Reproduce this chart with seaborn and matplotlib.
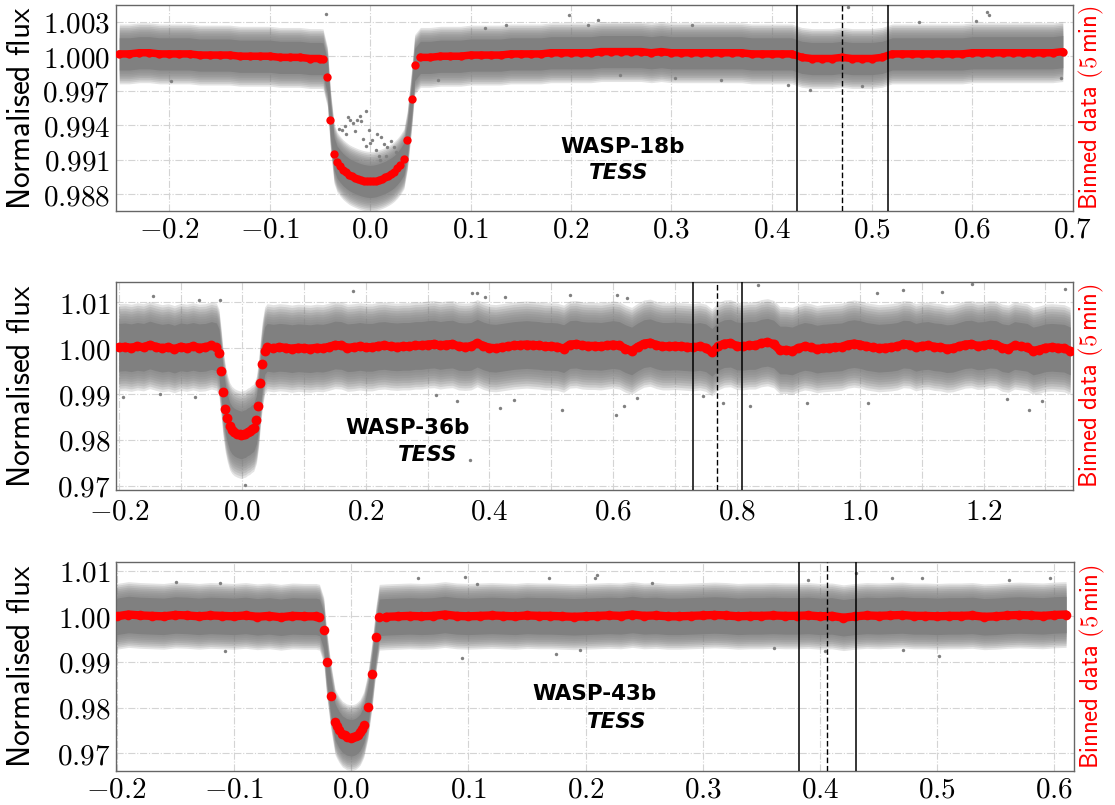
import numpy as np
import matplotlib
matplotlib.use("Agg")
import matplotlib.pyplot as plt
import seaborn as sns
from matplotlib.ticker import MultipleLocator, FuncFormatter, FixedLocator

sns.set_style("white")
plt.rcParams["font.family"] = ["DejaVu Sans"]
plt.rcParams["mathtext.fontset"] = "cm"
plt.rcParams["text.color"] = "black"

# ---------------- WASP-18b (TESS) ----------------
p1_pre_phase = np.round(np.arange(-0.25, -0.049, 0.01), 3)
p1_pre_flux = [1.0002, 1.0002, 1.0003, 1.0003, 1.0002, 1.0002, 1.0002, 1.0002, 1.0001, 1.0001,
               1.0001, 1.0001, 1.0000, 1.0000, 1.0000, 1.0000, 0.9999, 0.9999, 0.9999, 0.9998, 0.9998]
p1_tr_phase = [-0.047, -0.0426, -0.0396, -0.036, -0.033, -0.030, -0.027, -0.024, -0.021, -0.018,
               -0.015, -0.012, -0.009, -0.006, -0.003, 0.0, 0.003, 0.006, 0.009, 0.012,
               0.015, 0.018, 0.021, 0.024, 0.027, 0.030, 0.0336, 0.037, 0.0413, 0.0443]
p1_tr_flux = [0.99977, 0.9982, 0.9945, 0.99154, 0.9908, 0.99045, 0.99015, 0.98992, 0.98972, 0.98958,
              0.98946, 0.98935, 0.98926, 0.98919, 0.98914, 0.98912, 0.98914, 0.98919, 0.98928, 0.98937,
              0.98948, 0.98962, 0.98978, 0.98998, 0.99025, 0.99058, 0.99108, 0.9927, 0.9963, 0.99928]
p1_post_phase = np.round(np.arange(0.05, 0.695, 0.01), 3)
p1_post_flux = [0.9999, 0.9999, 1.0000, 1.0000, 1.0000, 1.0001, 1.0001, 1.0001, 1.0001, 1.0002,
                1.0002, 1.0002, 1.0002, 1.0003, 1.0003, 1.0003, 1.0003, 1.0003, 1.0004, 1.0004,
                1.0004, 1.0004, 1.0004, 1.0003, 1.0004, 1.0003, 1.0003, 1.0003, 1.0003, 1.0003,
                1.0003, 1.0003, 1.0003, 1.0002, 1.0002, 1.0002, 1.0002, 1.0002, 0.9999, 0.9998,
                0.9998, 0.9998, 0.9999, 0.9998, 0.9998, 0.9998, 0.9999, 1.0002, 1.0002, 1.0002,
                1.0002, 1.0002, 1.0002, 1.0002, 1.0002, 1.0003, 1.0003, 1.0003, 1.0003, 1.0003,
                1.0003, 1.0003, 1.0003, 1.0003, 1.0004]
p1_out_phase = [-0.0045, -0.0104, -0.0131, -0.0197, -0.0221, -0.0171, -0.0310, -0.0277, -0.0237, -0.0154,
                -0.0071, -0.0012, 0.0022, 0.0068, 0.0104, 0.0134, 0.0167, 0.0211, 0.0234, 0.0260,
                0.0055, 0.0085, 0.0101, 0.0154, 0.0002, -0.0038, -0.0088, -0.0254,
                -0.0443, -0.198, 0.6147, 0.6164, 0.6038, 0.5468, 0.4764, 0.438, 0.4167, 0.4904,
                0.6878, 0.198, 0.2265, 0.217, 0.114, 0.135, 0.249, 0.35, 0.3035, 0.068, 0.321]
p1_out_flux = [0.99522, 0.99484, 0.99450, 0.99450, 0.99473, 0.99421, 0.99369, 0.99357, 0.99320, 0.99348,
               0.99282, 0.99357, 0.99276, 0.99320, 0.99299, 0.99241, 0.99212, 0.99262, 0.99212, 0.99166,
               0.99189, 0.99137, 0.99097, 0.99131, 0.99247, 0.99218, 0.99435, 0.99392,
               1.00368, 0.99783, 1.00382, 1.00362, 1.00304, 1.00295, 1.00429, 0.99705, 0.99754, 0.99745,
               0.99812, 1.00354, 1.00319, 1.00275, 1.00246, 1.00267, 0.99841, 0.99792, 0.99812, 0.99792, 1.00275]
p1_noise = [0.0014, 0.0026]   # half-width of the dense core, of the sparse outer scatter
p1_solid = [0.4253, 0.5159]
p1_dashed = [0.4701]
p1_xticks = [-0.2, -0.1, 0.0, 0.1, 0.2, 0.3, 0.4, 0.5, 0.6, 0.7]
p1_yticks = [0.988, 0.991, 0.994, 0.997, 1.000, 1.003]

# ---------------- WASP-36b (TESS) ----------------
p2_pre_phase = np.round(np.arange(-0.20, -0.049, 0.01), 3)
p2_pre_flux = [1.0002, 1.0003, 1.0001, 1.0004, 1.0002, 1.0007, 1.0003, 1.0000, 1.0002, 0.9998,
               1.0003, 1.0001, 1.0004, 1.0001, 1.0002, 1.0006]
p2_tr_phase = [-0.042, -0.0379, -0.0347, -0.0314, -0.0275, -0.0243, -0.0206, -0.017, -0.013, -0.0087,
               -0.0045, -0.0016, 0.002, 0.0049, 0.0085, 0.0118, 0.015, 0.0183, 0.0227, 0.0259,
               0.0292, 0.0324, 0.0361, 0.040]
p2_tr_flux = [1.0003, 0.9990, 0.9951, 0.9904, 0.9867, 0.9847, 0.9830, 0.9822, 0.9817, 0.9814,
              0.9812, 0.9811, 0.9813, 0.9814, 0.9818, 0.9820, 0.9824, 0.9827, 0.9844, 0.9875,
              0.9925, 0.9966, 0.9995, 1.0002]
p2_post_phase = np.round(np.arange(0.05, 1.345, 0.01), 3)
p2_post_flux = [1.0000, 1.0002, 1.0001, 0.9999, 1.0001, 1.0000, 0.9999, 1.0001, 1.0000, 1.0003,
                1.0007, 1.0006, 1.0001, 1.0002, 1.0004, 1.0002, 1.0002, 1.0005, 1.0006, 1.0004,
                1.0003, 1.0004, 1.0004, 1.0006, 1.0006, 1.0008, 1.0009, 1.0006, 1.0008, 1.0009,
                1.0004, 1.0003, 1.0004, 1.0011, 1.0005, 1.0001, 1.0000, 1.0002, 1.0004, 1.0006,
                1.0007, 1.0008, 1.0007, 1.0006, 1.0004, 1.0004, 1.0003, 0.9999, 1.0008, 1.0009,
                1.0006, 1.0005, 1.0005, 1.0004, 1.0006, 1.0008, 1.0006, 0.9999, 0.9994, 1.0003,
                1.0010, 1.0012, 1.0007, 1.0004, 1.0004, 1.0005, 1.0004, 1.0003, 1.0002, 1.0004,
                1.0001, 0.9991, 1.0004, 1.0010, 1.0011, 1.0005, 1.0004, 1.0006, 1.0006, 1.0011,
                1.0013, 1.0009, 0.9996, 0.9996, 0.9994, 1.0000, 1.0004, 1.0002, 0.9998, 1.0000,
                1.0001, 1.0002, 1.0003, 1.0008, 1.0010, 1.0008, 1.0004, 1.0002, 1.0000, 1.0001,
                1.0002, 1.0004, 1.0009, 1.0008, 1.0002, 1.0005, 1.0006, 1.0003, 1.0002, 0.9999,
                1.0000, 1.0004, 1.0008, 1.0009, 1.0005, 1.0006, 1.0009, 1.0008, 1.0001, 0.9999,
                1.0006, 1.0004, 1.0002, 0.9994, 0.9997, 1.0001, 1.0002, 1.0001, 1.0000, 0.9994]
p2_out_phase = [0.379, 0.392, 0.425, 0.530, 0.371, 0.606, 0.622, 0.417, 0.517, 0.617,
                0.604, 0.439, 0.314, 0.347, 0.638, 0.746, 0.778, 0.834, 1.181, 1.332,
                1.027, 1.070, 1.132, 0.822, 0.914, 1.013, 1.274, 1.294, 1.237, -0.145,
                -0.070, -0.037, -0.194, -0.077, 0.179, 0.004, -0.134, 0.368]
p2_out_flux = [1.0120, 1.0111, 1.0112, 1.0116, 1.0120, 1.0116, 1.0109, 0.9870, 0.9866, 0.9873,
               0.9855, 0.9888, 0.9899, 0.9884, 0.9891, 0.9895, 0.9880, 1.0138, 1.0140, 1.0129,
               1.0121, 1.0126, 1.0122, 0.9873, 0.9880, 0.9880, 0.9866, 0.9884, 0.9890, 1.0114,
               1.0105, 1.0105, 0.9894, 0.9893, 1.0125, 0.9701, 0.9900, 0.9757]
p2_noise = [0.0052, 0.0095]
p2_solid = [0.730, 0.808]
p2_dashed = [0.768]
p2_xticks = [-0.2, 0.0, 0.2, 0.4, 0.6, 0.8, 1.0, 1.2]
p2_yticks = [0.97, 0.98, 0.99, 1.00, 1.01]

# ---------------- WASP-43b (TESS) ----------------
p3_pre_phase = np.round(np.arange(-0.20, -0.029, 0.01), 3)
p3_pre_flux = [1.0000, 1.0004, 1.0002, 1.0001, 1.0000, 1.0003, 1.0002, 1.0000, 1.0002, 1.0001,
               1.0000, 1.0002, 0.9999, 1.0001, 0.9998, 1.0001, 1.0000, 1.0000]
p3_tr_phase = [-0.027, -0.0234, -0.0209, -0.0174, -0.0137, -0.012, -0.0103, -0.0074, -0.0055, -0.0038,
               0.0, 0.002, 0.0039, 0.0058, 0.0077, 0.0092, 0.0108, 0.0142, 0.0179, 0.0214, 0.024]
p3_tr_flux = [0.9998, 0.9970, 0.9899, 0.9826, 0.9769, 0.9760, 0.9752, 0.9742, 0.9739, 0.9736,
              0.9734, 0.9735, 0.9737, 0.9741, 0.9746, 0.9754, 0.9763, 0.9802, 0.9873, 0.9954, 0.9998]
p3_post_phase = np.round(np.arange(0.03, 0.615, 0.01), 3)
p3_post_flux = [0.9999, 1.0000, 1.0001, 1.0000, 1.0001, 1.0004, 1.0001, 1.0000, 1.0001, 1.0002,
                1.0001, 1.0000, 1.0002, 1.0001, 1.0001, 1.0000, 0.9999, 1.0000, 1.0001, 1.0002,
                1.0001, 1.0004, 1.0001, 1.0002, 1.0000, 1.0000, 1.0001, 1.0002, 1.0003, 1.0002,
                1.0000, 1.0001, 1.0001, 1.0002, 1.0001, 1.0001, 1.0002, 1.0000, 1.0001, 0.9997,
                1.0000, 1.0002, 1.0001, 1.0002, 1.0003, 1.0001, 1.0001, 1.0000, 1.0001, 1.0001,
                1.0002, 0.9999, 1.0000, 1.0002, 1.0003, 1.0002, 1.0001, 1.0003, 1.0004]
p3_out_phase = [0.057, 0.0974, 0.2099, 0.208, 0.169, 0.0946, 0.175, 0.195, 0.107, 0.257,
                0.4308, 0.4868, 0.5014, 0.4617, 0.3894, 0.596, 0.561, 0.361, 0.4045, 0.4706,
                -0.1077, -0.112, -0.149]
p3_out_flux = [1.0084, 1.0086, 1.0091, 1.0084, 1.0084, 0.9909, 0.9918, 0.9927, 1.0070, 1.0072,
               1.0095, 1.0084, 0.9914, 1.0084, 1.0080, 1.0084, 1.0079, 0.9931, 0.9923, 0.9927,
               0.9923, 1.0073, 1.0075]
p3_noise = [0.0040, 0.0072]
p3_solid = [0.3823, 0.4305]
p3_dashed = [0.4062]
p3_xticks = [-0.2, -0.1, 0.0, 0.1, 0.2, 0.3, 0.4, 0.5, 0.6]
p3_yticks = [0.97, 0.98, 0.99, 1.00, 1.01]

planet_names = ["WASP-18b", "WASP-36b", "WASP-43b"]
mission = "TESS"

panels = [
    dict(pre=(p1_pre_phase, p1_pre_flux), tr=(p1_tr_phase, p1_tr_flux), post=(p1_post_phase, p1_post_flux),
         out=(p1_out_phase, p1_out_flux), noise=p1_noise, solid=p1_solid, dashed=p1_dashed,
         xticks=p1_xticks, yticks=p1_yticks, ydec=3, xminor=None, xpad=3.5,
         xlim=(-0.2535, 0.7005), ylim=(0.98655, 1.00448),
         rect=[0.1038, 0.7379, 0.8588, 0.2563], ms=36, lw=5.4,
         name_pos=(0.2512, 0.99215), tess_pos=(0.2473, 0.98981)),
    dict(pre=(p2_pre_phase, p2_pre_flux), tr=(p2_tr_phase, p2_tr_flux), post=(p2_post_phase, p2_post_flux),
         out=(p2_out_phase, p2_out_flux), noise=p2_noise, solid=p2_solid, dashed=p2_dashed,
         xticks=p2_xticks, yticks=p2_yticks, ydec=2, xminor=0.1, xpad=5.5,
         xlim=(-0.205, 1.345), ylim=(0.9691, 1.0145),
         rect=[0.1038, 0.3913, 0.8588, 0.2588], ms=50, lw=6.0,
         name_pos=(0.268, 0.98267), tess_pos=(0.300, 0.97680)),
    dict(pre=(p3_pre_phase, p3_pre_flux), tr=(p3_tr_phase, p3_tr_flux), post=(p3_post_phase, p3_post_flux),
         out=(p3_out_phase, p3_out_flux), noise=p3_noise, solid=p3_solid, dashed=p3_dashed,
         xticks=p3_xticks, yticks=p3_yticks, ydec=2, xminor=None, xpad=3.5,
         xlim=(-0.2008, 0.617), ylim=(0.96612, 1.01197),
         rect=[0.1038, 0.04224, 0.8597, 0.2600], ms=48, lw=6.0,
         name_pos=(0.208, 0.98307), tess_pos=(0.2268, 0.97693)),
]


def fmt_factory(dec):
    def f(v, pos):
        if abs(v) < 1e-9:
            v = 0.0
        return "$" + f"{v:.{dec}f}" + "$"
    return f


fig = plt.figure(figsize=(11.15, 8.05), dpi=100)
spine_col = "#666666"
n_layers = 8

for i, P in enumerate(panels):
    ax = fig.add_axes(P["rect"])
    ax.set_axisbelow(True)

    ph = np.concatenate([P["pre"][0], P["tr"][0], P["post"][0]])
    fl = np.concatenate([P["pre"][1], P["tr"][1], P["post"][1]])

    # unbinned-data cloud: dense core with a fading, sparser outer fringe
    core, outer = P["noise"]
    for w in np.linspace(outer, core, n_layers, endpoint=False):
        ax.fill_between(ph, fl - w, fl + w, color="#808080", alpha=0.22, lw=0, zorder=1)
    ax.fill_between(ph, fl - core, fl + core, color="#808080", alpha=1.0, lw=0, zorder=1)
    sns.scatterplot(x=P["out"][0], y=P["out"][1], color="#808080", s=6, linewidth=0,
                    ax=ax, zorder=1, legend=False)

    # binned data
    for seg in (P["pre"], P["post"]):
        ax.plot(seg[0], seg[1], color="red", lw=P["lw"], solid_capstyle="round", zorder=3)
    sns.scatterplot(x=ph, y=fl, color="red", s=P["ms"], linewidth=0, ax=ax, zorder=3, legend=False)

    for xv in P["solid"]:
        ax.axvline(xv, color="black", lw=1.1, ls="-", zorder=4)
    for xv in P["dashed"]:
        ax.axvline(xv, color="black", lw=1.0, ls=(0, (4, 2)), zorder=4)

    ax.set_xlim(*P["xlim"])
    ax.set_ylim(*P["ylim"])
    ax.xaxis.set_major_locator(FixedLocator(P["xticks"]))
    ax.yaxis.set_major_locator(FixedLocator(P["yticks"]))
    if P["xminor"]:
        ax.xaxis.set_minor_locator(MultipleLocator(P["xminor"]))
        ax.grid(True, which="minor", axis="x", ls="-.", color="#d4d4d4", lw=0.8)
    ax.xaxis.set_major_formatter(FuncFormatter(fmt_factory(1)))
    ax.yaxis.set_major_formatter(FuncFormatter(fmt_factory(P["ydec"])))
    ax.grid(True, which="major", ls="-.", color="#d4d4d4", lw=0.8)

    ax.tick_params(axis="both", which="major", labelsize=21, direction="in", length=3,
                   width=0.8, color=spine_col, labelcolor="black")
    ax.tick_params(axis="x", which="major", pad=P["xpad"])
    ax.tick_params(axis="y", which="major", pad=4)
    ax.tick_params(axis="both", which="minor", direction="in", length=2, width=0.6, color=spine_col)
    for sp in ax.spines.values():
        sp.set_color(spine_col)
        sp.set_linewidth(1.0)

    ax.text(-0.098, 0.5, r"$\mathsf{Normalised\ flux}$", transform=ax.transAxes, rotation=90,
            ha="center", va="center", fontsize=22.5, color="black")
    ax.text(1.0185, 0.5, r"$\mathsf{Binned\ data\ (5\,min)}$", transform=ax.transAxes, rotation=90,
            ha="center", va="center", fontsize=17.8, color="red")

    ax.text(P["name_pos"][0], P["name_pos"][1], planet_names[i], ha="center", va="center",
            fontsize=15.5, fontweight="bold", color="black", zorder=5)
    ax.text(P["tess_pos"][0], P["tess_pos"][1], mission, ha="center", va="center",
            fontsize=15.5, fontweight="bold", fontstyle="italic", color="black", zorder=5)
    ax.set_xlabel("")
    ax.set_ylabel("")

fig.savefig("out.png", dpi=100)
